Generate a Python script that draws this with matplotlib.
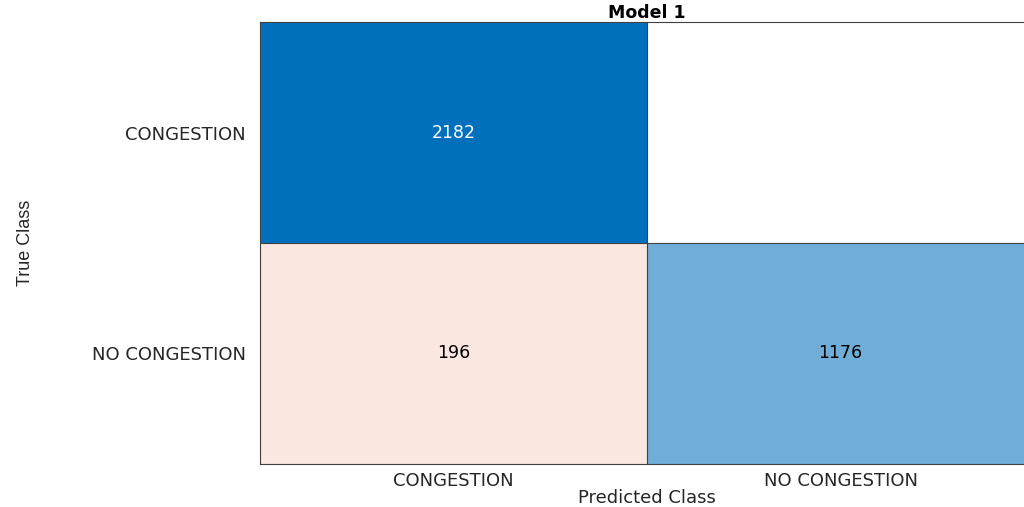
import numpy as np
import matplotlib.pyplot as plt
from matplotlib.colors import LinearSegmentedColormap

plt.rcParams['font.family'] = ['DejaVu Sans']

classes = ['CONGESTION', 'NO CONGESTION']
counts = np.array([[2182, 0],
                   [196, 1176]])

# diagonal (correct) cells in blue, off-diagonal (errors) in red tones
blue = LinearSegmentedColormap.from_list(
    'diag', [(0.0, '#ffffff'), (0.539, '#70aed8'), (1.0, '#0070bd')])
red = LinearSegmentedColormap.from_list(
    'off', [(0.0, '#ffffff'), (0.09, '#f9e6df'), (1.0, '#d95319')])

vmax = counts.max()
n = len(classes)
rgb = np.ones((n, n, 3))
for i in range(n):
    for j in range(n):
        if counts[i, j] == 0:
            continue
        cmap = blue if i == j else red
        rgb[i, j] = cmap(counts[i, j] / vmax)[:3]

fig = plt.figure(figsize=(10.24, 5.07), dpi=100)
ax = fig.add_axes([260 / 1024, 43 / 507, 774 / 1024, 442 / 507])
ax.imshow(rgb, aspect='auto', interpolation='nearest')

for i in range(n):
    for j in range(n):
        if counts[i, j] == 0:
            continue
        col = 'white' if (i == j and counts[i, j] / vmax > 0.7) else 'black'
        ax.text(j, i, str(counts[i, j]), ha='center', va='center',
                fontsize=12.5, color=col)

for k in np.arange(0.5, n - 0.5):
    ax.axhline(k, color='#404040', lw=0.8)
    ax.axvline(k, color='#404040', lw=0.8)

ax.set_xticks(range(n))
ax.set_xticklabels(classes, fontsize=13, color='#262626')
ax.set_yticks(range(n))
ax.set_yticklabels(classes, fontsize=13, color='#262626')
ax.tick_params(axis='x', length=0, pad=6)
ax.tick_params(axis='y', length=0, pad=10)
for s in ax.spines.values():
    s.set_color('#404040')
    s.set_linewidth(0.8)

ax.set_xlabel('Predicted Class', fontsize=13, labelpad=-1, color='#262626')
ax.set_ylabel('True Class', fontsize=13, labelpad=42, color='#262626',
              family=['Liberation Sans'])
ax.set_title('Model 1', fontsize=12.5, fontweight='bold', pad=2)

fig.savefig('out.png', dpi=100)
